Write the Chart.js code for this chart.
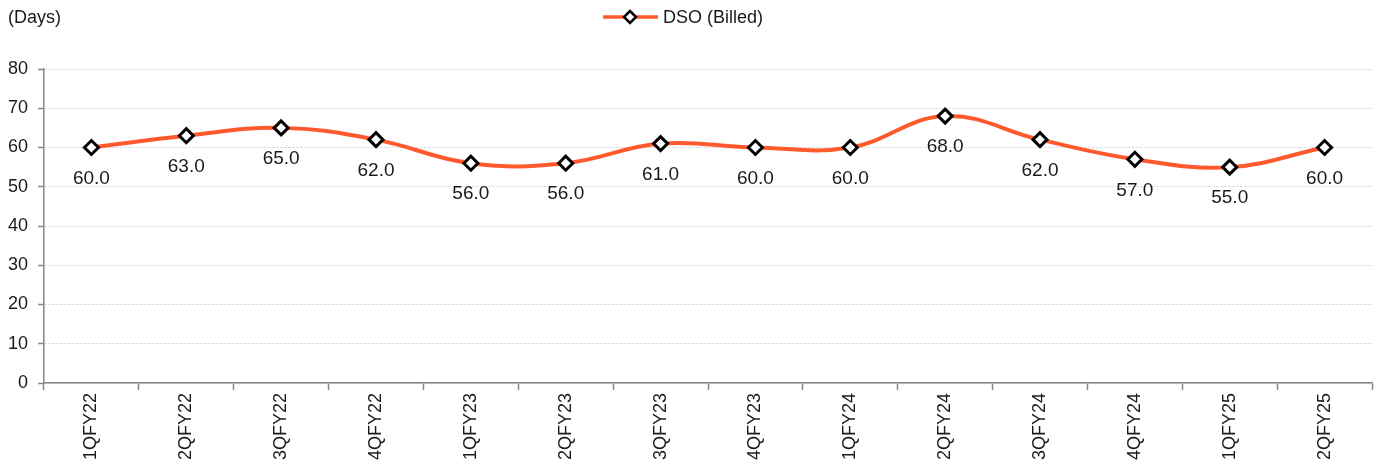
<!DOCTYPE html>
<html>
<head>
<meta charset="utf-8">
<script src="https://cdn.jsdelivr.net/npm/chart.js@4.4.1/dist/chart.umd.min.js"></script>
<style>
  html, body { margin: 0; padding: 0; background: #fff; }
  #wrap { width: 1383px; height: 467px; position: relative; }
</style>
</head>
<body>
<div id="wrap"><canvas id="dsoChart" width="1383" height="467"></canvas></div>
<script>
// DSO (Billed), days
const quarters = ['1QFY22', '2QFY22', '3QFY22', '4QFY22', '1QFY23', '2QFY23', '3QFY23',
                  '4QFY23', '1QFY24', '2QFY24', '3QFY24', '4QFY24', '1QFY25', '2QFY25'];
const dsoBilled = [60, 63, 65, 62, 56, 56, 61, 60, 60, 68, 62, 57, 55, 60];
const seriesName = 'DSO (Billed)';
const unitLabel = '(Days)';

const FONT = '"Liberation Sans", Arial, sans-serif';
const LINE_COLOR = '#FF5A2E';

// value labels under each point + legend + unit caption
const annotations = {
    id: 'annotations',
    afterDatasetsDraw(chart) {
        const ctx = chart.ctx;
        const meta = chart.getDatasetMeta(0);
        ctx.save();
        ctx.font = '19px ' + FONT;
        ctx.fillStyle = '#1a1a1a';
        ctx.textAlign = 'center';
        ctx.textBaseline = 'middle';
        meta.data.forEach((pt, i) => {
            ctx.fillText(dsoBilled[i].toFixed(1), pt.x, pt.y + 31);
        });

        // unit caption
        ctx.font = '18px ' + FONT;
        ctx.textAlign = 'left';
        ctx.fillText(unitLabel, 8, 18);

        // legend
        ctx.strokeStyle = LINE_COLOR;
        ctx.lineWidth = 3.5;
        ctx.beginPath();
        ctx.moveTo(603, 17);
        ctx.lineTo(658, 17);
        ctx.stroke();
        ctx.fillStyle = '#fff';
        ctx.strokeStyle = '#000';
        ctx.lineWidth = 2.5;
        ctx.beginPath();
        ctx.moveTo(630, 11);
        ctx.lineTo(636, 17);
        ctx.lineTo(630, 23);
        ctx.lineTo(624, 17);
        ctx.closePath();
        ctx.fill();
        ctx.stroke();
        ctx.fillStyle = '#1a1a1a';
        ctx.fillText(seriesName, 663, 18);
        ctx.restore();
    }
};

new Chart(document.getElementById('dsoChart'), {
    type: 'line',
    data: {
        labels: quarters,
        datasets: [{
            label: seriesName,
            data: dsoBilled,
            borderColor: LINE_COLOR,
            borderWidth: 4,
            tension: 0.4,
            pointStyle: 'rectRot',
            pointRadius: 7,
            pointBorderWidth: 3,
            pointBorderColor: '#000',
            pointBackgroundColor: '#fff'
        }]
    },
    options: {
        responsive: false,
        animation: false,
        layout: { padding: { top: 69, right: 11, left: 0, bottom: 0 } },
        plugins: {
            legend: { display: false },
            tooltip: { enabled: false }
        },
        scales: {
            x: {
                offset: true,
                grid: {
                    offset: true,
                    drawOnChartArea: false,
                    drawTicks: true,
                    tickLength: 7,
                    tickColor: '#868686',
                    tickWidth: 1.5
                },
                border: { color: '#868686', width: 1.5 },
                ticks: {
                    color: '#1a1a1a',
                    font: { family: FONT, size: 18 },
                    maxRotation: 90,
                    minRotation: 90,
                    padding: 3
                },
                afterFit(scale) { scale.height = 84; }
            },
            y: {
                min: 0,
                max: 80,
                ticks: {
                    stepSize: 10,
                    color: '#1a1a1a',
                    font: { family: FONT, size: 18 },
                    padding: 10
                },
                grid: {
                    color: '#d0d0d0',
                    lineWidth: 1,
                    tickLength: 6,
                    tickColor: '#868686',
                    tickWidth: 1.5,
                    tickBorderDash: []
                },
                border: { color: '#868686', width: 1.5, dash: [2, 2] },
                afterFit(scale) { scale.width = 44; }
            }
        }
    },
    plugins: [annotations]
});
</script>
</body>
</html>
